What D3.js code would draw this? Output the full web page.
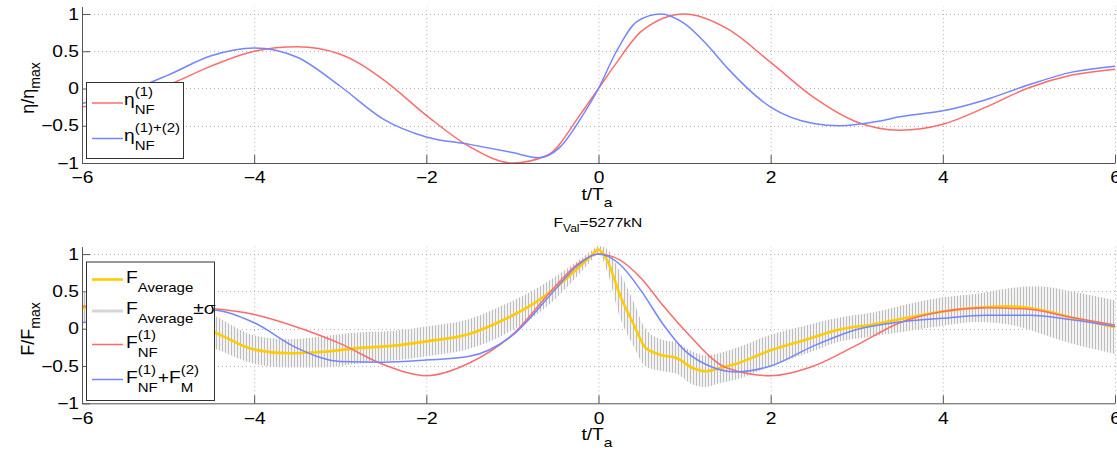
<!DOCTYPE html>
<html><head><meta charset="utf-8">
<script src="https://cdn.jsdelivr.net/npm/d3@7"></script>
<style>body{margin:0;background:#fff}svg{display:block}text{font-family:"Liberation Sans",Arial,Helvetica,sans-serif;fill:#000}</style>
</head><body><svg id="c" width="1117" height="451"></svg>
<script>
// ---------- data ----------
const xTicks = [-6, -4, -2, 0, 2, 4, 6];
const yTicks = [-1, -0.5, 0, 0.5, 1];

// top panel: eta / eta_max
const tEta1 = [-6,-5.5,-5,-4.5,-4,-3.5,-3,-2.5,-2,-1.5,-1,-0.6,-0.2,0,0.2,0.5,1,1.5,2,2.5,3,3.5,4,4.5,5,5.5,6];
const eta1  = [-0.25,-0.12,0.05,0.30,0.50,0.56,0.46,0.12,-0.36,-0.78,-1.0,-0.90,-0.33,0,0.33,0.77,1.0,0.80,0.35,-0.12,-0.45,-0.56,-0.48,-0.25,0.01,0.18,0.26];
const tEta12 = [-6,-5.5,-5,-4.5,-4,-3.5,-3,-2.5,-2,-1.5,-1,-0.7,-0.45,-0.2,0,0.2,0.45,0.72,1.0,1.25,1.5,2,2.5,2.8,3.25,3.5,4,4.5,5,5.5,6];
const eta12  = [-0.2,-0.05,0.18,0.44,0.545,0.42,0.03,-0.41,-0.65,-0.75,-0.86,-0.93,-0.79,-0.39,0,0.48,0.90,1.0,0.87,0.6,0.27,-0.25,-0.47,-0.50,-0.44,-0.38,-0.30,-0.15,0.05,0.22,0.30];

// bottom panel: F / F_max
const tF1 = [-6,-5.5,-5,-4.5,-4,-3.5,-3,-2.5,-2,-1.5,-1,-0.5,-0.25,0,0.25,0.5,0.75,1,1.5,2,2.5,3,3.5,4,4.5,5,5.5,6];
const fNF1 = [0.30,0.31,0.30,0.27,0.19,0.02,-0.20,-0.48,-0.63,-0.46,-0.08,0.57,0.86,1.0,0.92,0.67,0.31,-0.02,-0.53,-0.63,-0.50,-0.22,0.08,0.23,0.28,0.26,0.15,0.05];
const tF12 = [-6,-5.5,-5,-4.5,-4,-3.5,-3,-2.5,-2,-1.5,-1,-0.5,-0.25,0,0.25,0.5,0.75,1,1.25,1.6,2,2.5,3,3.5,4,4.5,5,5.5,6];
const fNF1M2 = [0.08,0.17,0.25,0.25,0.08,-0.26,-0.44,-0.45,-0.42,-0.37,-0.09,0.53,0.84,1.0,0.86,0.50,0.06,-0.29,-0.48,-0.58,-0.50,-0.23,-0.01,0.09,0.14,0.18,0.18,0.12,0.03];
const tAvg = [-6,-5.5,-5,-4.5,-4,-3.6,-3.2,-2.8,-2.4,-2,-1.5,-1.1,-0.75,-0.5,-0.25,-0.1,0,0.1,0.25,0.4,0.55,0.75,0.9,1.1,1.25,1.4,1.6,2,2.4,2.8,3.2,3.6,4,4.4,4.75,5.1,5.5,6];
const fAvg = [0.28,0.22,0.12,-0.03,-0.28,-0.33,-0.31,-0.26,-0.23,-0.17,-0.07,0.12,0.34,0.55,0.80,0.96,1.06,0.92,0.45,0.08,-0.26,-0.36,-0.39,-0.53,-0.57,-0.53,-0.47,-0.29,-0.15,-0.01,0.06,0.15,0.23,0.28,0.30,0.26,0.15,0.02];
const sigAvg = [0.2,0.21,0.22,0.22,0.19,0.19,0.21,0.21,0.2,0.2,0.2,0.2,0.18,0.15,0.1,0.07,0.05,0.15,0.3,0.3,0.25,0.21,0.21,0.22,0.21,0.2,0.21,0.21,0.19,0.16,0.16,0.18,0.19,0.19,0.24,0.31,0.35,0.36];

const titleMain = "F", titleSub = "Val", titleRest = "=5277kN";

// ---------- layout ----------
const svg = d3.select("#c");
const SX = 1.2; // horizontal stretch of text in reference
const x = d3.scaleLinear([-6, 6], [82, 1115]);
const yT = d3.scaleLinear([-1, 1.1], [163, 163 - 2.1 * 74.5]);
const yB = d3.scaleLinear([-1, 1.1], [403.3, 403.3 - 2.1 * 74.6]);

const defs = svg.append("defs");
const pat = defs.append("pattern").attr("id", "vbars").attr("patternUnits", "userSpaceOnUse")
  .attr("width", 3).attr("height", 4);
pat.append("rect").attr("width", 3).attr("height", 4).attr("fill", "#f4f4f4");
pat.append("rect").attr("width", 1).attr("height", 4).attr("fill", "#bdbdbd");

function panel(y) {
  const g = svg.append("g");
  g.selectAll(".gx").data(xTicks.filter(d => d > -6)).join("line")
    .attr("x1", d => x(d) + 0.5).attr("x2", d => x(d) + 0.5)
    .attr("y1", y(-1)).attr("y2", y(1.1))
    .attr("stroke", "#b4b4b4").attr("stroke-dasharray", "1,3");
  g.selectAll(".gy").data(yTicks.filter(d => d > -1)).join("line")
    .attr("x1", x(-6)).attr("x2", x(6))
    .attr("y1", d => Math.round(y(d)) + 0.5).attr("y2", d => Math.round(y(d)) + 0.5)
    .attr("stroke", "#b4b4b4").attr("stroke-dasharray", "1,3");
  return g;
}

function axes(y) {
  const fmt = d3.format("~g");
  const ax = svg.append("g").attr("transform", `translate(0,${y(-1)})`)
    .call(d3.axisBottom(x).tickValues(xTicks).tickFormat(fmt).tickSize(-8).tickSizeOuter(0).tickPadding(9));
  const ay = svg.append("g").attr("transform", `translate(${x(-6)},0)`)
    .call(d3.axisLeft(y).tickValues(yTicks).tickFormat(fmt).tickSize(-8).tickSizeOuter(0).tickPadding(3));
  [ax, ay].forEach(a => {
    a.select(".domain").attr("stroke", "#555");
    a.selectAll(".tick line").attr("stroke", "#555");
    a.selectAll(".tick text").attr("font-size", 16).attr("fill", "#000")
      .attr("font-family", '"Liberation Sans",Arial,sans-serif');
  });
  ax.selectAll(".tick text").attr("transform", `scale(${SX},1)`);
  ay.selectAll(".tick text").each(function () {
    d3.select(this).attr("transform", `scale(${SX},1)`).attr("x", -3 / SX);
  });
}

// rich text: blocks of {m, sup, sub}
function rich(parent, px, py, blocks, o) {
  const g = parent.append("g");
  let cx = 0;
  for (const b of blocks) {
    if (b.m) {
      const t = g.append("text").attr("x", cx).attr("y", 0).attr("font-size", o.fs).text(b.m);
      cx += t.node().getComputedTextLength();
    }
    let w = 0;
    if (b.sup) {
      const t = g.append("text").attr("x", cx).attr("y", o.supDy).attr("font-size", o.sfs).text(b.sup);
      w = Math.max(w, t.node().getComputedTextLength());
    }
    if (b.sub) {
      const t = g.append("text").attr("x", cx).attr("y", o.subDy).attr("font-size", o.sfs).text(b.sub);
      w = Math.max(w, t.node().getComputedTextLength());
    }
    cx += w;
  }
  const sx = o.sx || SX;
  const off = o.anchor === "middle" ? -cx / 2 : 0;
  if (o.rotate) {
    g.attr("transform", `translate(${px},${py}) rotate(-90) translate(${off},0)`);
  } else {
    g.attr("transform", `translate(${px + off * sx},${py}) scale(${sx},1)`);
  }
  return g;
}

const lineGen = (y) => d3.line().x(d => x(d[0])).y(d => y(d[1])).curve(d3.curveMonotoneX);
const RED = "#ff6b6b", BLUE = "#7485ff", YEL = "#ffcc00", GRAY = "#d6d6d6";

// ---------- top panel ----------
panel(yT);
svg.append("path").datum(d3.zip(tEta1, eta1)).attr("d", lineGen(yT))
  .attr("fill", "none").attr("stroke", RED).attr("stroke-width", 1.5);
svg.append("path").datum(d3.zip(tEta12, eta12)).attr("d", lineGen(yT))
  .attr("fill", "none").attr("stroke", BLUE).attr("stroke-width", 1.5);
axes(yT);

// ---------- bottom panel ----------
panel(yB);
const band = d3.area().x(d => x(d[0])).y0(d => yB(d[1] - d[2])).y1(d => yB(d[1] + d[2])).curve(d3.curveMonotoneX);
svg.append("path").datum(d3.zip(tAvg, fAvg, sigAvg)).attr("d", band).attr("fill", "url(#vbars)");
svg.append("path").datum(d3.zip(tAvg, fAvg)).attr("d", lineGen(yB))
  .attr("fill", "none").attr("stroke", YEL).attr("stroke-width", 2.6);
svg.append("path").datum(d3.zip(tF1, fNF1)).attr("d", lineGen(yB))
  .attr("fill", "none").attr("stroke", RED).attr("stroke-width", 1.5);
svg.append("path").datum(d3.zip(tF12, fNF1M2)).attr("d", lineGen(yB))
  .attr("fill", "none").attr("stroke", BLUE).attr("stroke-width", 1.5);
axes(yB);

// ---------- labels ----------
const lbl = { fs: 16, sfs: 13, subDy: 7, supDy: -8, anchor: "middle" };
rich(svg, 597, 200, [{ m: "t/T", sub: "a" }], lbl);
rich(svg, 597, 440, [{ m: "t/T", sub: "a" }], lbl);
rich(svg, 598, 227, [{ m: titleMain, sub: titleSub }, { m: titleRest }], { fs: 13, sfs: 10, subDy: 5, supDy: -6, anchor: "middle" });
rich(svg, 34, 88, [{ m: "η/η", sub: "max" }], { fs: 18, sfs: 14, subDy: 6, supDy: -8, anchor: "middle", rotate: true });
rich(svg, 34, 329, [{ m: "F/F", sub: "max" }], { fs: 18, sfs: 14, subDy: 6, supDy: -8, anchor: "middle", rotate: true });

// ---------- legends ----------
function legend(box, items) {
  const g = svg.append("g");
  g.append("rect").attr("x", box[0] + 0.5).attr("y", box[1] + 0.5).attr("width", box[2]).attr("height", box[3])
    .attr("fill", "#fff").attr("stroke", "#333").attr("stroke-width", 1);
  items.forEach(it => {
    g.append("line").attr("x1", 92).attr("x2", 123).attr("y1", it.y).attr("y2", it.y)
      .attr("stroke", it.c).attr("stroke-width", it.w);
    rich(g, it.tx, it.y + it.bo, it.blocks, { fs: 16, sfs: 12.5, subDy: 9, supDy: -9 });
  });
}
legend([86, 82, 97, 76], [
  { y: 103, c: RED, w: 1.5, tx: 124, bo: 2, blocks: [{ m: "η", sup: "(1)", sub: "NF" }] },
  { y: 138.5, c: BLUE, w: 1.5, tx: 124, bo: 2, blocks: [{ m: "η", sup: "(1)+(2)", sub: "NF" }] }
]);
legend([86, 261.5, 128, 138.5], [
  { y: 279.5, c: YEL, w: 2.6, tx: 126, bo: 3, blocks: [{ m: "F", sub: "Average" }] },
  { y: 311, c: GRAY, w: 3, tx: 126, bo: 3, blocks: [{ m: "F", sub: "Average" }, { m: "±σ" }] },
  { y: 344.5, c: RED, w: 1.5, tx: 126, bo: 3, blocks: [{ m: "F", sup: "(1)", sub: "NF" }] },
  { y: 379.5, c: BLUE, w: 1.5, tx: 126, bo: 3, blocks: [{ m: "F", sup: "(1)", sub: "NF" }, { m: "+F", sup: "(2)", sub: "M" }] }
]);
</script></body></html>
